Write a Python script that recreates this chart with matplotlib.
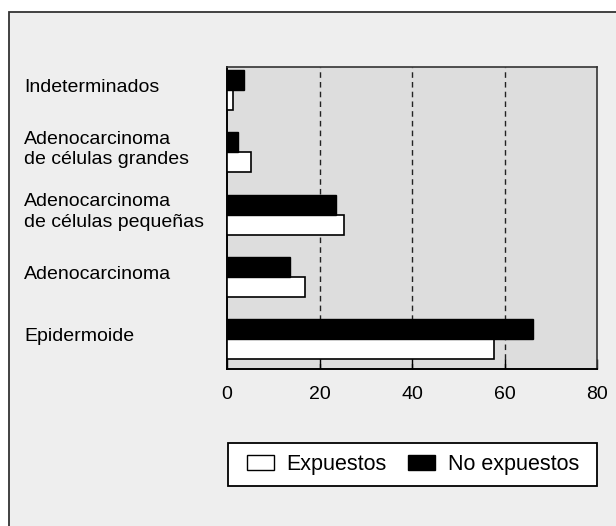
import matplotlib
matplotlib.use("Agg")
import matplotlib.pyplot as plt
from matplotlib.patches import Rectangle, Patch
import numpy as np

plt.rcParams['font.family'] = ['Liberation Sans', 'DejaVu Sans']

categories = ["Epidermoide", "Adenocarcinoma", "Adenocarcinoma\nde células pequeñas",
              "Adenocarcinoma\nde células grandes", "Indeterminados"]
expuestos = [57.8, 16.8, 25.2, 5.2, 1.2]
no_expuestos = [66.2, 13.6, 23.5, 2.3, 3.6]
series_labels = ["Expuestos", "No expuestos"]
xticks = [0, 20, 40, 60, 80]

W, H = 616, 526
fig = plt.figure(figsize=(W / 100, H / 100), dpi=100)
fig.patch.set_facecolor("white")

# outer panel
fig.patches.append(Rectangle((9 / W, -0.05), 1.2, 1 - 12 / H + 0.05, transform=fig.transFigure,
                             facecolor="#eeeeee", edgecolor="#333333", linewidth=1.3, zorder=-5))

ax = fig.add_axes([227 / W, 1 - 369 / H, (597 - 227) / W, (369 - 67) / H])
ax.set_zorder(2)
ax.set_facecolor("#dddddd")

y = np.arange(len(categories))
h = 0.32
ax.barh(y - h / 2, expuestos, height=h, color="white", edgecolor="black", linewidth=1.2, zorder=3)
ax.barh(y + h / 2, no_expuestos, height=h, color="black", edgecolor="black", linewidth=1.0, zorder=3)

ax.set_xlim(0, 80)
ax.set_ylim(-0.48, 4.37)
ax.set_xticks(xticks)
ax.set_xticklabels([str(t) for t in xticks], fontsize=14)
ax.tick_params(axis="x", direction="in", length=7, width=1.0, pad=12.5)
ax.set_yticks([])

for gx in xticks[1:-1]:
    ax.axvline(gx, color="#222222", linestyle=(0, (4, 3)), linewidth=1.0, zorder=1)

for s in ["left", "bottom"]:
    ax.spines[s].set_color("black")
    ax.spines[s].set_linewidth(1.4)
for s in ["top", "right"]:
    ax.spines[s].set_color("#333333")
    ax.spines[s].set_linewidth(1.2)

# category labels
trans = matplotlib.transforms.blended_transform_factory(fig.transFigure, ax.transData)
for i, lab in enumerate(categories):
    fig.text(24 / W, i + 0.04, lab, transform=trans, ha="left", va="center",
             fontsize=14, linespacing=1.25)

# legend box
fig.patches.append(Rectangle((228 / W, 1 - 486 / H), (597 - 228) / W, (486 - 443) / H,
                             transform=fig.transFigure, facecolor="white", edgecolor="black",
                             linewidth=1.3, zorder=2))
handles = [Patch(facecolor="white", edgecolor="black", linewidth=1.0),
           Patch(facecolor="black", edgecolor="black", linewidth=1.0)]
leg = fig.legend(handles, series_labels, loc="center", bbox_to_anchor=(413 / W, 1 - 464.5 / H),
                 ncol=2, frameon=False, fontsize=15.5, handlelength=1.25, handleheight=0.65,
                 handletextpad=0.6, columnspacing=1.0)
leg.set_zorder(5)

fig.savefig("out.png", dpi=100, facecolor=fig.get_facecolor())
